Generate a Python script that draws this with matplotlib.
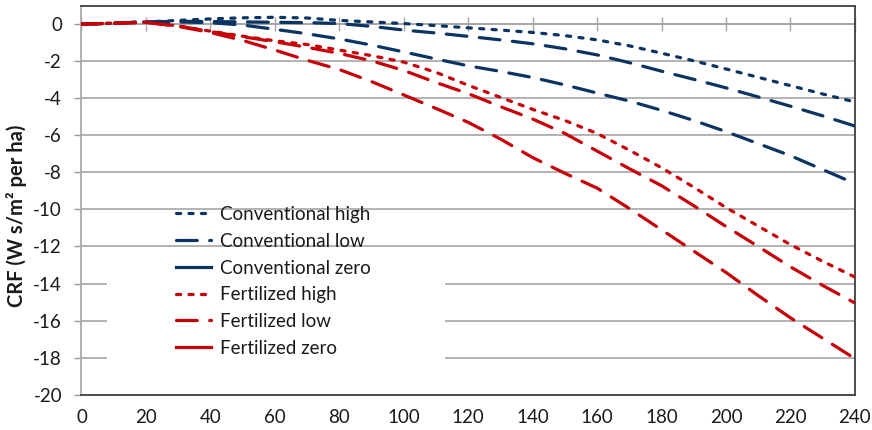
import matplotlib
matplotlib.use("Agg")
import matplotlib.pyplot as plt
from matplotlib.lines import Line2D
from matplotlib.patches import Rectangle

plt.rcParams['font.family'] = ['Lato', 'DejaVu Sans']

# x values (ha)
area = [0, 10, 20, 30, 40, 50, 60, 70, 80, 90, 100, 110, 120,
        130, 140, 150, 160, 170, 180, 190, 200, 210, 220, 230, 240]

conv_high = [0, 0.05, 0.12, 0.2, 0.28, 0.34, 0.37, 0.33, 0.2, 0.12, 0.03, -0.08, -0.2,
             -0.32, -0.45, -0.62, -0.85, -1.17, -1.57, -1.98, -2.42, -2.87, -3.32, -3.77, -4.2]
conv_low = [0, 0.05, 0.12, 0.15, 0.14, 0.12, 0.1, 0.08, 0.03, -0.12, -0.32, -0.48, -0.66,
            -0.85, -1.06, -1.33, -1.66, -2.08, -2.54, -2.98, -3.44, -3.93, -4.43, -4.95, -5.5]
conv_zero = [0, 0.05, 0.12, 0.12, 0.08, -0.05, -0.28, -0.52, -0.8, -1.13, -1.5, -1.88, -2.25,
             -2.55, -2.88, -3.28, -3.72, -4.15, -4.65, -5.2, -5.8, -6.45, -7.1, -7.85, -8.6]
fert_high = [0, 0.05, 0.1, -0.1, -0.38, -0.65, -0.9, -1.1, -1.4, -1.7, -2.05, -2.6, -3.3,
             -3.95, -4.6, -5.2, -5.9, -6.8, -7.75, -8.8, -9.9, -10.9, -11.9, -12.8, -13.65]
fert_low = [0, 0.05, 0.1, -0.1, -0.4, -0.68, -0.95, -1.25, -1.58, -1.98, -2.5, -3.15, -3.75,
            -4.45, -5.12, -5.9, -6.85, -7.8, -8.72, -9.8, -10.92, -12.0, -13.1, -14.1, -15.05]
fert_zero = [0, 0.05, 0.1, -0.12, -0.45, -0.88, -1.4, -1.95, -2.45, -3.1, -3.82, -4.55, -5.3,
             -6.2, -7.2, -8.05, -8.85, -9.95, -11.1, -12.25, -13.4, -14.65, -15.85, -16.95, -18.05]

labels = ['Conventional high', 'Conventional low', 'Conventional zero',
          'Fertilized high', 'Fertilized low', 'Fertilized zero']
x_ticks = list(range(0, 241, 20))
y_ticks = list(range(-20, 1, 2))

NAVY = '#0b3462'
RED = '#c80008'
DOT = (1.3, 2.6)
LONG = (6.5, 3.9)
LW = 2.3

fig = plt.figure(figsize=(8.72, 4.30), dpi=100)
ax = fig.add_axes([0.0934, 0.082, 0.887, 0.905])

series = [(conv_high, NAVY, DOT), (conv_low, NAVY, LONG), (conv_zero, NAVY, LONG),
          (fert_high, RED, DOT), (fert_low, RED, LONG), (fert_zero, RED, LONG)]
for vals, col, dash in series:
    ax.plot(area, vals, color=col, lw=LW, dashes=dash, dash_capstyle='round', zorder=3)

ax.set_xlim(0, 240)
ax.set_ylim(-20, 1)
ax.set_yticks(y_ticks)
ax.set_xticks(x_ticks)
ax.set_yticklabels([str(v) for v in y_ticks])
ax.tick_params(axis='y', length=5, width=1, color='#999999', pad=9, labelsize=13.5, labelcolor='#1a1a1a')
ax.tick_params(axis='x', length=0, pad=10, labelsize=13.5, labelcolor='#1a1a1a')

ax.set_axisbelow(True)
ax.grid(axis='y', color='#a6a6a6', lw=1.2)
ax.grid(axis='x', visible=False)

for side in ['top', 'right', 'bottom']:
    ax.spines[side].set_color('#404040')
    ax.spines[side].set_linewidth(1.3)
ax.spines['left'].set_color('#a6a6a6')
ax.spines['left'].set_linewidth(1.2)

# horizontal axis line crossing at y = 0
sec = ax.secondary_xaxis(0, transform=ax.transData)
sec.set_xticks(x_ticks)
sec.tick_params(axis='x', direction='inout', length=10, width=1, color='#a6a6a6', labelbottom=False)
sec.spines['bottom'].set_color('#a6a6a6')
sec.spines['bottom'].set_linewidth(1.2)

ax.set_ylabel('CRF (W s/m² per ha)', fontsize=14.5, fontweight='bold', color='#1a1a1a')
ax.yaxis.set_label_coords(-0.071, 0.459)

# white legend area covering the grid lines
ax.add_patch(Rectangle((0.033, 0.062), 0.437, 0.273, transform=ax.transAxes,
                       facecolor='white', edgecolor='none', zorder=1))

handles = [Line2D([], [], color=NAVY, lw=LW, dashes=DOT, dash_capstyle='round'),
           Line2D([], [], color=NAVY, lw=LW, dashes=LONG, dash_capstyle='round'),
           Line2D([], [], color=NAVY, lw=LW, ls='-'),
           Line2D([], [], color=RED, lw=LW, dashes=DOT, dash_capstyle='round'),
           Line2D([], [], color=RED, lw=LW, dashes=LONG, dash_capstyle='round'),
           Line2D([], [], color=RED, lw=LW, ls='-')]
leg = ax.legend(handles, labels, loc='upper left', bbox_to_anchor=(0.122, 0.485),
                frameon=False, fontsize=13.5, handlelength=1.9, handletextpad=0.45,
                labelspacing=0.52, borderpad=0, borderaxespad=0)
for t in leg.get_texts():
    t.set_color('#1a1a1a')

fig.savefig('out.png', dpi=100)
